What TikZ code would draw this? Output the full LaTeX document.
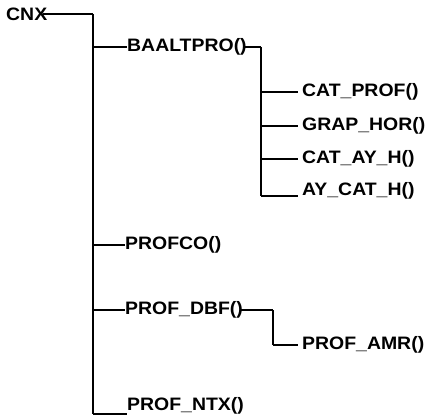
\documentclass[tikz,border=0pt]{standalone}
\usepackage{fontspec}
\setmainfont{Liberation Sans}[FakeStretch=1.08]
\begin{document}
\begin{tikzpicture}[x=1pt,y=-1pt,
  lbl/.style={anchor=west,inner sep=0pt,font=\fontsize{18}{19}\selectfont\bfseries},
  conn/.style={line width=1.5pt},
  trunk/.style={line width=1.9pt}]
\useasboundingbox (0,0) rectangle (431,417);
\node[lbl] (cnx) at (6,14) {CNX};
\node[lbl] (baal) at (127,47) {BAALTPRO()};
\node[lbl] (catp) at (302,92) {CAT\_PROF()};
\node[lbl] (grap) at (302,126) {GRAP\_HOR()};
\node[lbl] (catay) at (302,159) {CAT\_AY\_H()};
\node[lbl] (aycat) at (302,191) {AY\_CAT\_H()};
\node[lbl] (profco) at (125,245) {PROFCO()};
\node[lbl] (dbf) at (125,310) {PROF\_DBF()};
\node[lbl] (amr) at (302,345) {PROF\_AMR()};
\node[lbl] (ntx) at (127,406) {PROF\_NTX()};
\coordinate (t0) at (93,14);
\coordinate (t1) at (93,414);
\coordinate (b0) at (261,47);
\coordinate (b1) at (261,196);
\coordinate (d0) at (273,310);
\coordinate (d1) at (273,345);
% main trunk
\draw[conn] ([xshift=-4pt]cnx.east) -- (t0);
\draw[trunk] (t0) -- (t1);
\draw[conn] (baal.west -| t0) -- (baal.west);
\draw[conn] (profco.west -| t0) -- (profco.west);
\draw[conn] (dbf.west -| t0) -- (dbf.west);
\draw[conn] (t1) -- (t1 -| ntx.west);
% BAALTPRO branch
\draw[conn] ([xshift=-3pt]baal.east) -- (b0);
\draw[trunk] (b0) -- (b1);
\draw[conn] (catp.west -| b0) -- ([xshift=-4pt]catp.west);
\draw[conn] (grap.west -| b0) -- ([xshift=-4pt]grap.west);
\draw[conn] (catay.west -| b0) -- ([xshift=-4pt]catay.west);
\draw[conn] (b1) -- ([xshift=-4pt]b1 -| aycat.west);
% PROF_DBF branch
\draw[conn] ([xshift=-3pt]dbf.east) -- (d0);
\draw[trunk] (d0) -- (d1);
\draw[conn] (d1) -- ([xshift=-4pt]amr.west);
\end{tikzpicture}
\end{document}
